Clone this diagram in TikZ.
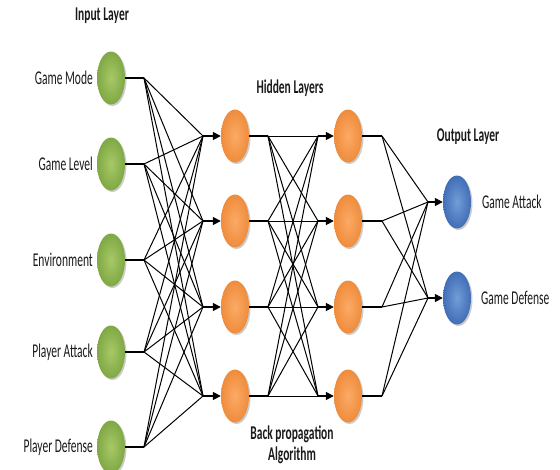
\documentclass[tikz,border=0pt]{standalone}
\usepackage{fontspec}
\setmainfont{Carlito}
\usepackage{graphicx}
\usetikzlibrary{arrows.meta,shadows,shapes.geometric}
\newcommand{\nar}[1]{\scalebox{0.59}[1]{#1}}
\definecolor{gIn}{HTML}{A6C966}
\definecolor{gOut}{HTML}{80A845}
\definecolor{oIn}{HTML}{FBAA66}
\definecolor{oOut}{HTML}{EF8C3C}
\definecolor{bIn}{HTML}{729DD8}
\definecolor{bOut}{HTML}{416EB6}
\definecolor{txt}{HTML}{1A1A1A}
\begin{document}
\begin{tikzpicture}[x=1pt,y=-1pt,
  neuron/.style={ellipse, minimum width=28pt, minimum height=53pt, inner sep=0pt,
    drop shadow={shadow xshift=1.5pt, shadow yshift=-1.5pt, fill=black, opacity=0.2}},
  inneuron/.style={neuron, inner color=gIn, outer color=gOut},
  hidneuron/.style={neuron, inner color=oIn, outer color=oOut},
  outneuron/.style={neuron, inner color=bIn, outer color=bOut},
  lbl/.style={font=\fontsize{19.5}{23}\selectfont, text=txt, inner sep=0pt},
  ttl/.style={font=\fontsize{19.5}{23}\selectfont\bfseries, text=txt, inner sep=0pt, align=center},
  wire/.style={line width=1pt, black},
  stub/.style={line width=1.5pt, black},
  arr/.style={line width=1.5pt, black, -{Triangle[length=8pt,width=8pt]}}
]
\useasboundingbox (0,0) rectangle (560,469);
\clip (0,0) rectangle (560,469);

% input layer
\foreach \i/\y in {1/78,2/164,3/260,4/352,5/447}{
  \node[inneuron] (in\i) at (111,\y) {};
  \coordinate (f\i) at (144,\y);
}
% hidden layers
\foreach \j/\y in {1/136,2/221,3/307,4/396}{
  \node[hidneuron] (ha\j) at (235,\y) {};
  \node[hidneuron] (hb\j) at (348,\y) {};
  \coordinate (c\j) at (203,\y);
  \coordinate (g\j) at (268,\y);
  \coordinate (d\j) at (318,\y);
  \coordinate (k\j) at (382,\y);
}
% output layer
\foreach \o/\y in {1/202,2/298}{
  \node[outneuron] (out\o) at (457,\y) {};
  \coordinate (e\o) at (428,\y);
}

% labels
\node[lbl, anchor=east] (l1) at (93,78) {\nar{Game Mode}};
\node[lbl, anchor=east] (l2) at (93,164) {\nar{Game Level}};
\node[lbl, anchor=east] (l3) at (93,260) {\nar{Environment}};
\node[lbl, anchor=east] (l4) at (93,352) {\nar{Player Attack}};
\node[lbl, anchor=east] (l5) at (93,447) {\nar{Player Defense}};
\node[lbl, anchor=west] (lo1) at (482,202) {\nar{Game Attack}};
\node[lbl, anchor=west] (lo2) at (481,298) {\nar{Game Defense}};

\node[ttl] (tin) at (102,16) {\nar{Input Layer}};
\node[ttl] (thid) at (290,88) {\nar{Hidden Layers}};
\node[ttl] (tout) at (468,137) {\nar{Output Layer}};
\node[ttl] (tbp) at (292,445) {\nar{Back propagation}\\[-2pt]\nar{Algorithm}};

% input -> hidden 1
\foreach \i in {1,...,5}{
  \draw[stub] (in\i.east) -- (f\i);
  \foreach \j in {1,...,4}{ \draw[wire] (f\i) -- (c\j); }
}
\foreach \j in {1,...,4}{
  \draw[arr] (c\j) -- (ha\j.west);
  \draw[stub] (ha\j.east) -- (g\j);
  \foreach \m in {1,...,4}{ \draw[wire] (g\j) -- (d\m); }
  \draw[arr] (d\j) -- (hb\j.west);
  \draw[stub] (hb\j.east) -- (k\j);
  \foreach \o in {1,2}{ \draw[wire] (k\j) -- (e\o); }
}
\foreach \o in {1,2}{
  \draw[arr] (e\o) -- (out\o.west);
}
\end{tikzpicture}
\end{document}
